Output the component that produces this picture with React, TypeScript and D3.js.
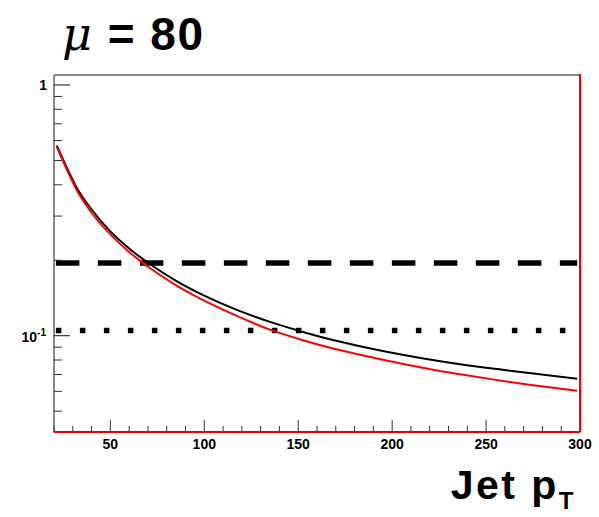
import React from "react";
import * as d3 from "d3";

// Jet pT grid and efficiency curves (log scale)
const ptValues = [21.5, 28, 32, 39, 50, 60, 71, 85, 100, 117, 135, 153, 169, 186, 204, 224, 238, 256, 273, 298.5];
const blackValues = [0.573, 0.448, 0.39, 0.326, 0.2606, 0.2228, 0.1932, 0.1656, 0.1445, 0.1271, 0.1135, 0.1033, 0.0959, 0.0897, 0.0843, 0.0794, 0.0766, 0.0736, 0.071, 0.0673];
const redValues = [0.565, 0.44, 0.382, 0.3166, 0.2535, 0.2158, 0.1862, 0.1589, 0.138, 0.1202, 0.1057, 0.0957, 0.0887, 0.083, 0.0776, 0.0726, 0.0698, 0.0665, 0.0638, 0.0603];

// Horizontal reference levels
const dashedLevel = 0.195;
const dottedLevel = 0.105;
const levelRange = [21, 298.5];

const xMajorTicks = [50, 100, 150, 200, 250, 300];
const xMinorTicks = d3.range(20, 301, 10);
const yMajorTicks = [1, 0.1];
const yMinorTicks = [0.05, 0.06, 0.07, 0.08, 0.09, 0.2, 0.3, 0.4, 0.5, 0.6, 0.7, 0.8, 0.9];

const W = 599;
const H = 517;
const left = 54;
const right = 580;
const top = 75;
const bottom = 432;

export default function App() {
  const x = d3.scaleLinear().domain([20, 300]).range([left, right]);
  const y = d3.scaleLog().domain([0.0413, 1.096]).range([bottom, top]);

  const line = d3
    .line<[number, number]>()
    .x((d) => x(d[0]))
    .y((d) => y(d[1]))
    .curve(d3.curveMonotoneX);

  const blackPath = line(ptValues.map((p, i) => [p, blackValues[i]]) as [number, number][]) || "";
  const redPath = line(ptValues.map((p, i) => [p, redValues[i]]) as [number, number][]) || "";

  const font = "'Liberation Sans', Arial, Helvetica, sans-serif";

  return (
    <svg
      width={W}
      height={H}
      style={{ position: "absolute", left: 0, top: 0, background: "#fff" }}
      fontFamily={font}
    >
      <rect x={0} y={0} width={W} height={H} fill="#fff" />

      {/* Title */}
      <text x={62} y={50} fontSize={46} fontWeight="bold" fill="#000" letterSpacing={1.5}>
        <tspan fontStyle="italic" fontFamily="'DejaVu Serif', serif" fontWeight="normal">μ</tspan>
        <tspan> = 80</tspan>
      </text>

      {/* Frame */}
      <line x1={left} x2={right} y1={top} y2={top} stroke="#888" strokeWidth={2} />
      <line x1={left} x2={left} y1={top} y2={bottom} stroke="#666" strokeWidth={1.5} />

      {/* Reference levels */}
      <line
        x1={x(levelRange[0])}
        x2={x(levelRange[1])}
        y1={y(dashedLevel)}
        y2={y(dashedLevel)}
        stroke="#000"
        strokeWidth={5.5}
        strokeDasharray="23.5 18.5"
      />
      <line
        x1={x(levelRange[0])}
        x2={x(levelRange[1])}
        y1={y(dottedLevel)}
        y2={y(dottedLevel)}
        stroke="#000"
        strokeWidth={5.5}
        strokeDasharray="5.5 18.5"
      />

      {/* Curves */}
      <path d={blackPath} fill="none" stroke="#000" strokeWidth={2} />
      <path d={redPath} fill="none" stroke="#f00" strokeWidth={2} />

      {/* X ticks */}
      {xMinorTicks.map((t) => {
        const major = xMajorTicks.includes(t);
        return (
          <line
            key={"xt" + t}
            x1={x(t)}
            x2={x(t)}
            y1={bottom}
            y2={bottom - (major ? 12 : 6)}
            stroke="#333"
            strokeWidth={1}
          />
        );
      })}
      {xMajorTicks.map((t) => (
        <text
          key={"xl" + t}
          x={x(t)}
          y={449}
          fontSize={14}
          fontWeight="bold"
          textAnchor="middle"
          fill="#000"
        >
          {t}
        </text>
      ))}

      {/* Y ticks */}
      {yMajorTicks.map((t) => (
        <line key={"ym" + t} x1={left} x2={left + 16} y1={y(t)} y2={y(t)} stroke="#111" strokeWidth={1} />
      ))}
      {yMinorTicks.map((t) => (
        <line key={"yn" + t} x1={left} x2={left + 8} y1={y(t)} y2={y(t)} stroke="#333" strokeWidth={1} />
      ))}
      <text x={47} y={y(1) + 5} fontSize={14} fontWeight="bold" textAnchor="end" fill="#000">
        1
      </text>
      <text x={46} y={y(0.1) + 6} fontSize={14} fontWeight="bold" textAnchor="end" fill="#000">
        10<tspan fontSize={10} dy={-6}>-1</tspan>
      </text>

      {/* Bottom and right frame edges */}
      <line x1={left} x2={right} y1={bottom} y2={bottom} stroke="#e00" strokeWidth={2} />
      <line x1={right} x2={right} y1={top - 1} y2={bottom} stroke="#e00" strokeWidth={2} />

      {/* X axis title */}
      <text x={right - 4} y={499} fontSize={41} fontWeight="bold" textAnchor="end" fill="#000" letterSpacing={2.5}>
        Jet p<tspan fontSize={24} dy={10}>T</tspan>
      </text>
    </svg>
  );
}
